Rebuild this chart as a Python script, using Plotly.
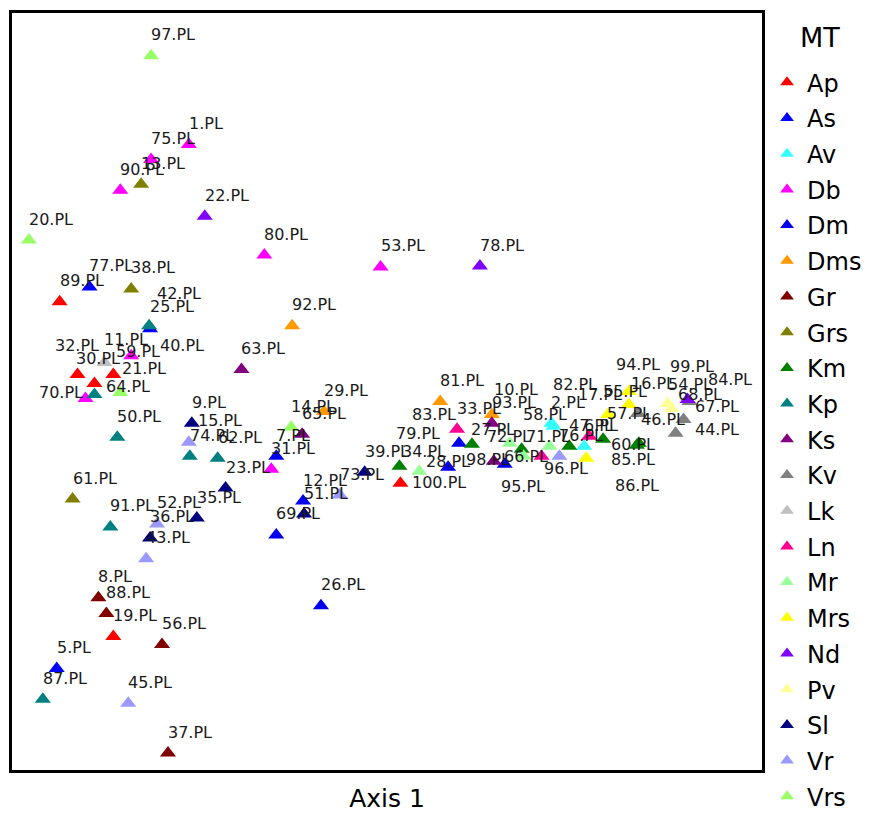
import plotly.graph_objects as go

# ---- categories / colours ----
groups = ["Ap", "As", "Av", "Db", "Dm", "Dms", "Gr", "Grs", "Km", "Kp", "Ks",
          "Kv", "Lk", "Ln", "Mr", "Mrs", "Nd", "Pv", "Sl", "Vr", "Vrs"]
group_colors = ["#FF0000", "#0000FF", "#33FFFF", "#FF00FF", "#0000EE", "#FF9900",
                "#800000", "#808000", "#008000", "#008080", "#800080", "#808080",
                "#C0C0C0", "#FF0090", "#99FF99", "#FFFF00", "#8000FF", "#FFFF99",
                "#000080", "#9999FF", "#99FF66"]

# ---- samples: label, MT group, Axis 1 score, Axis 2 score ----
labels = ["97.PL", "1.PL", "75.PL", "13.PL", "90.PL", "22.PL", "20.PL", "80.PL", "53.PL", "78.PL",
          "89.PL", "77.PL", "38.PL", "42.PL", "25.PL", "92.PL", "63.PL", "32.PL", "30.PL", "21.PL",
          "11.PL", "59.PL", "70.PL", "64.PL", "40.PL", "50.PL", "9.PL", "15.PL", "74.PL", "62.PL",
          "23.PL", "31.PL", "7.PL", "14.PL", "65.PL", "29.PL", "61.PL", "91.PL", "52.PL", "35.PL",
          "36.PL", "43.PL", "8.PL", "88.PL", "19.PL", "56.PL", "5.PL", "87.PL", "45.PL", "37.PL",
          "26.PL", "69.PL", "12.PL", "51.PL", "73.PL",
          "81.PL", "10.PL", "93.PL", "33.PL", "83.PL", "27.PL", "72.PL", "71.PL", "79.PL", "34.PL",
          "28.PL", "98.PL", "95.PL", "100.PL", "39.PL", "66.PL", "96.PL", "58.PL", "2.PL", "82.PL",
          "76.PL", "47.PL", "6.PL", "17.PL", "85.PL", "60.PL", "57.PL", "94.PL", "55.PL", "16.PL",
          "46.PL", "86.PL", "54.PL", "68.PL", "99.PL", "84.PL", "67.PL", "44.PL"]
mt = ["Vrs", "Db", "Db", "Grs", "Db", "Nd", "Vrs", "Db", "Db", "Nd",
      "Ap", "As", "Grs", "As", "Kp", "Dms", "Ks", "Ap", "Ap", "Ap",
      "Lk", "Db", "Db", "Kp", "Vrs", "Kp", "Sl", "Vr", "Kp", "Kp",
      "Sl", "Db", "Dm", "Vrs", "Ks", "Dms", "Grs", "Kp", "Vr", "Sl",
      "Sl", "Vr", "Gr", "Gr", "Ap", "Gr", "As", "Kp", "Vr", "Gr",
      "Dm", "Dm", "Dm", "Sl", "Vr",
      "Dms", "Dms", "Ks", "Ln", "Dm", "Km", "Mr", "Km", "Km", "Mr",
      "Dm", "Ks", "Dm", "Ap", "Sl", "Mr", "Ln", "Mr", "Av", "Av",
      "Vr", "Km", "Av", "Ln", "Mrs", "Km", "Mrs", "Mrs", "Mrs", "Kv",
      "Km", "Km", "Pv", "Pv", "Nd", "Kv", "Kv", "Kv"]
axis1 = [140, 178, 140, 130, 109, 194, 17, 254, 371, 471,
         48, 78, 120, 139, 138, 282, 231, 66, 83, 102,
         93, 120, 74, 83, 109, 106, 181, 178, 179, 207,
         215, 261, 266, 281, 292, 314, 61, 99, 146, 186,
         139, 135, 87, 95, 102, 151, 45, 31, 117, 157,
         311, 266, 293, 294, 330,
         431, 483, 483, 448, 450, 463, 501, 513, 390, 410,
         439, 485, 496, 391, 355, 515, 533, 541, 543, 545,
         551, 561, 576, 581, 578, 595, 600, 621, 621, 630,
         631, 629, 660, 664, 680, 682, 676, 668]
axis2 = [717, 628, 613, 588, 582, 556, 532, 517, 505, 506,
         470, 485, 483, 443, 446, 446, 402, 397, 388, 397,
         409, 416, 373, 377, 379, 334, 348, 329, 315, 313,
         283, 302, 315, 344, 337, 360, 272, 244, 247, 253,
         233, 212, 173, 157, 134, 126, 102, 71, 67, 17,
         165, 236, 270, 257, 276,
         370, 357, 348, 342, 328, 327, 328, 322, 305, 300,
         304, 310, 307, 288, 299, 315, 315, 325, 348, 345,
         315, 325, 325, 335, 313, 332, 357, 380, 367, 358,
         328, 326, 368, 363, 372, 370, 352, 338]

# label placement (pixels: left edge of text, vertical centre) where PC-ORD
# did not put the label straight above its point
label_offset = {
    "42.PL": (5, -35), "25.PL": (-1, -19), "32.PL": (-25, -29), "30.PL": (-20, -25),
    "21.PL": (7, -6), "11.PL": (-2, -23), "59.PL": (-17, -4), "70.PL": (-49, -6),
    "64.PL": (10, -8), "40.PL": (38, -47), "15.PL": (7, -22),
    "10.PL": (0, -25), "83.PL": (-49, -29), "27.PL": (-3, -15), "72.PL": (-25, -7),
    "71.PL": (2, -13), "79.PL": (-5, -33), "34.PL": (-19, -20), "28.PL": (-24, -6),
    "98.PL": (-30, -2), "95.PL": (-6, 22), "100.PL": (10, -1), "66.PL": (-22, 0),
    "96.PL": (0, 12), "58.PL": (-28, -32), "82.PL": (-2, -42), "17.PL": (-13, -42),
    "85.PL": (23, 1), "60.PL": (6, 5), "57.PL": (-3, -1), "94.PL": (-15, -27),
    "55.PL": (-28, -13), "16.PL": (-9, -30), "46.PL": (0, -24), "86.PL": (-24, 40),
    "54.PL": (-2, -19), "68.PL": (4, -14), "99.PL": (-20, -33), "84.PL": (16, -22),
    "67.PL": (9, -13), "44.PL": (17, -4),
}

fig = go.Figure()
for g, c in zip(groups, group_colors):
    idx = [i for i, m in enumerate(mt) if m == g]
    fig.add_trace(go.Scatter(
        x=[axis1[i] for i in idx], y=[axis2[i] for i in idx],
        mode="markers", name=g, legendgroup=g,
        marker=dict(symbol="triangle-up", size=14, color=c, line=dict(width=0)),
        hoverinfo="text", text=[labels[i] for i in idx]))

for lab, xv, yv in zip(labels, axis1, axis2):
    dx, dy = label_offset.get(lab, (-2, -21))
    fig.add_annotation(x=xv, y=yv, text=lab, showarrow=False,
                       xanchor="left", yanchor="middle", xshift=dx, yshift=-dy,
                       font=dict(family="DejaVu Sans", size=16, color="#1a1a1a"))

# legend title drawn as text above the legend
fig.add_annotation(xref="paper", yref="paper", x=1.0775, y=0.968, text="MT",
                   showarrow=False, xanchor="center", yanchor="middle",
                   font=dict(family="DejaVu Sans", size=27, color="black"))

fig.update_layout(
    width=865, height=807,
    margin=dict(l=4, r=106, t=2, b=45),
    paper_bgcolor="white", plot_bgcolor="white",
    font=dict(family="DejaVu Sans", color="black"),
    showlegend=True,
    legend=dict(
        xref="container", yref="container",
        x=0.8775, xanchor="left", y=0.9353, yanchor="top",
        font=dict(size=24, family="DejaVu Sans"),
        tracegroupgap=1.5, itemsizing="constant", bgcolor="rgba(0,0,0,0)",
        maxheight=900,
    ),
    xaxis=dict(range=[0, 755], showgrid=False, zeroline=False, showticklabels=False,
               ticks="", showline=True, linecolor="black", linewidth=3, mirror=True,
               title=dict(text="Axis 1", font=dict(size=25, family="DejaVu Sans"), standoff=18)),
    yaxis=dict(range=[0, 760], showgrid=False, zeroline=False, showticklabels=False,
               ticks="", showline=True, linecolor="black", linewidth=3, mirror=True),
)

fig.write_html("out.html")
